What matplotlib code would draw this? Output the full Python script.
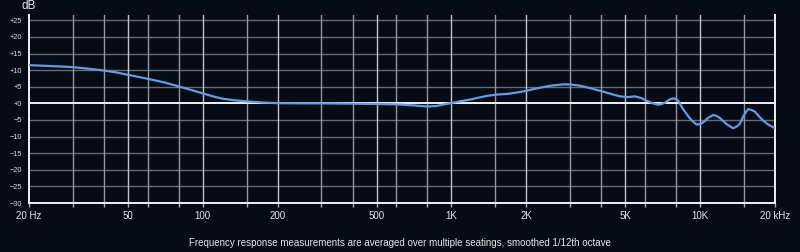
import matplotlib
matplotlib.use("Agg")
from matplotlib import pyplot as plt

# frequency response
freq_hz = [20, 25, 30, 35, 40, 45, 50, 60, 70, 80, 90, 100, 110, 120, 135, 150,
           175, 200, 250, 300, 400, 500, 600, 700, 800, 870, 950, 1000, 1100,
           1200, 1300, 1400, 1500, 1700, 1850, 2000, 2200, 2500, 2800, 3000,
           3300, 3600, 4000, 4400, 4760, 5100, 5470, 5800, 6090, 6450, 6780,
           7000, 7220, 7500, 7790, 8000, 8160, 8500, 8820, 9200, 9680, 10000,
           10290, 10800, 11290, 11650, 12000, 12800, 13580, 14000, 14450, 15000,
           15600, 16100, 16600, 17200, 17930, 18800, 19670, 20000]
response_db = [11.5, 11.2, 10.9, 10.4, 9.9, 9.3, 8.6, 7.4, 6.3, 5.1, 4.0, 3.0,
               2.1, 1.4, 0.9, 0.6, 0.25, 0.05, 0.0, 0.0, -0.1, -0.2, -0.3, -0.6,
               -0.95, -0.8, -0.2, 0.1, 0.7, 1.2, 1.8, 2.3, 2.6, 2.9, 3.3, 3.8,
               4.5, 5.3, 5.7, 5.7, 5.3, 4.6, 3.7, 2.8, 2.1, 1.9, 2.1, 1.6, 0.8,
               0.0, -0.4, -0.2, 0.2, 1.1, 1.5, 1.3, 0.8, -1.5, -3.2, -5.0, -6.4,
               -6.2, -5.7, -4.3, -3.5, -3.8, -4.4, -6.3, -7.5, -7.0, -6.2, -3.5,
               -1.7, -2.0, -2.5, -3.8, -5.2, -6.4, -7.2, -7.4]

grid_hz = [20, 30, 40, 50, 60, 80, 100, 150, 200, 300, 400, 500, 600, 800,
           1000, 1500, 2000, 3000, 4000, 5000, 6000, 8000, 10000, 15000, 20000]
labelled_hz = [20, 50, 100, 200, 500, 1000, 2000, 5000, 10000, 20000]
x_labels = ["20 Hz", "50", "100", "200", "500", "1K", "2K", "5K", "10K", "20 kHz"]
db_ticks = [25, 20, 15, 10, 5, 0, -5, -10, -15, -20, -25, -30]
db_labels = ["+25", "+20", "+15", "+10", "+5", "+0", "\u22125", "\u221210",
             "\u221215", "\u221220", "\u221225", "\u221230"]

caption = ("Frequency response measurements are averaged over multiple "
           "seatings, smoothed 1/12th octave")

bg = "#060b16"
W, H = 800, 252
plt.rcParams["font.family"] = ["Liberation Sans", "DejaVu Sans"]

fig = plt.figure(figsize=(W / 100, H / 100), dpi=100, facecolor=bg)
left, right, top, bottom = 29, 775, 15, 203
ax = fig.add_axes([left / W, 1 - bottom / H, (right - left) / W, (bottom - top) / H])
ax.set_facecolor(bg)
ax.set_xscale("log")
ax.set_xlim(20, 20000)
ax.set_ylim(-30, 26.6)
for s in ax.spines.values():
    s.set_visible(False)

for d in db_ticks:
    if d in (0, -30):
        ax.axhline(d, color="#f2f2f2", lw=1.4, zorder=2, clip_on=False)
    else:
        ax.axhline(d, color="#686b72", lw=1.0, zorder=1)
for f in grid_hz:
    if f in (20, 20000):
        ax.axvline(f, color="#f2f2f2", lw=1.4, zorder=2, clip_on=False)
    elif f in labelled_hz:
        ax.axvline(f, color="#c4c4c4", lw=1.0, zorder=1)
    else:
        ax.axvline(f, color="#959595", lw=1.0, zorder=1)

ax.plot(freq_hz, response_db, color="#5b9ee9", lw=1.6, zorder=3,
        solid_capstyle="round", solid_joinstyle="round")

ax.minorticks_off()
ax.set_xticks(grid_hz)
ax.set_xticklabels([x_labels[labelled_hz.index(f)] if f in labelled_hz else ""
                    for f in grid_hz])
ax.tick_params(axis="x", length=3, width=1, color="#b0b0b0", pad=3,
               labelsize=7, labelcolor="#e6e6e6")
ax.set_yticks(db_ticks)
ax.set_yticklabels(db_labels)
ax.tick_params(axis="y", length=0, pad=5, labelsize=5.3, labelcolor="#dcdcdc")

fig.text(21 / W, 1 - 6 / H, "dB", color="#e6e6e6", fontsize=8.5,
         ha="left", va="center")
fig.text(0.5, 1 - 243 / H, caption, color="#e6e6e6", fontsize=7.0,
         ha="center", va="center")

fig.savefig("out.png", dpi=100, facecolor=bg)
